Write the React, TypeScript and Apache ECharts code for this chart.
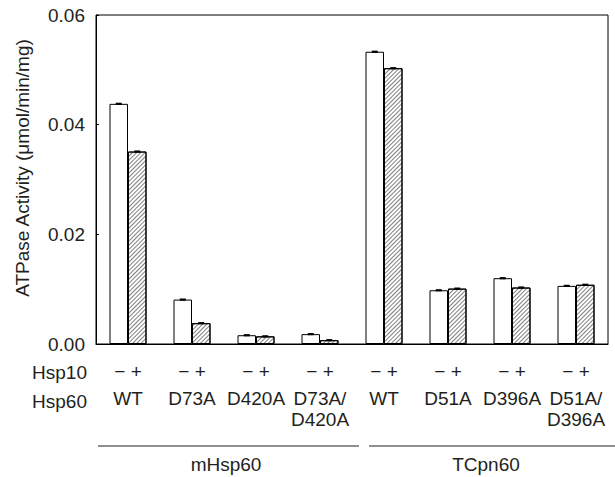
import React, { useEffect, useRef } from "react";
import * as echarts from "echarts";

const categories = ["WT", "D73A", "D420A", "D73A/\nD420A", "WT", "D51A", "D396A", "D51A/\nD396A"];
const withoutHsp10 = [0.0438, 0.0081, 0.0016, 0.0018, 0.0533, 0.0098, 0.0120, 0.0106];
const withHsp10 = [0.0351, 0.0038, 0.0014, 0.0007, 0.0503, 0.0101, 0.0103, 0.0108];
const errWithout = [0.0002, 0.0002, 0.0002, 0.0002, 0.0002, 0.0002, 0.0002, 0.0002];
const errWith = [0.0002, 0.0002, 0.0002, 0.0002, 0.0002, 0.0002, 0.0002, 0.0002];
const yTicks = [0, 0.02, 0.04, 0.06];
const rowLabels = ["Hsp10", "Hsp60"];
const groupLabels = ["mHsp60", "TCpn60"];

const FONT = "'Liberation Sans', Arial, Helvetica, sans-serif";
const TXT = "#231f20";
const FS = 19;
const BAR_W = 18.5;

export default function App() {
  const ref = useRef<HTMLDivElement>(null);
  useEffect(() => {
    if (!ref.current) return;
    const chart = echarts.init(ref.current, null, { renderer: "svg" });

    const errSeries = (vals: number[], errs: number[], off: number) => ({
      type: "custom",
      z: 5,
      data: vals.map((v, i) => [i, v, errs[i]]),
      encode: { x: 0, y: 1 },
      renderItem: (params: any, api: any) => {
        const i = api.value(0);
        const v = api.value(1);
        const e = api.value(2);
        const hi = api.coord([i, v + e]);
        const lo = api.coord([i, v - e]);
        const h = Math.max(2, lo[1] - hi[1]);
        const cy = (hi[1] + lo[1]) / 2;
        return {
          type: "rect",
          shape: { x: hi[0] + off - 3, y: cy - h / 2, width: 6, height: h },
          style: { fill: "#000" },
        };
      },
    });

    chart.setOption({
      animation: false,
      grid: {
        left: 96,
        right: 7,
        top: 15,
        bottom: 133,
        show: true,
        borderColor: "#000",
        borderWidth: 1,
        backgroundColor: "transparent",
      },
      xAxis: {
        type: "category",
        data: categories,
        axisLine: { lineStyle: { color: "#000", width: 1 } },
        axisTick: { inside: true, length: 4, lineStyle: { color: "#000" } },
        axisLabel: {
          interval: 0,
          margin: 10,
          color: TXT,
          fontFamily: FONT,
          fontSize: FS,
          formatter: (value: string) =>
            "{pm|\u2212 +}\n" +
            value
              .split("\n")
              .map((s) => "{nm|" + s + "}")
              .join("\n"),
          rich: {
            pm: { fontFamily: FONT, fontSize: FS, color: TXT, lineHeight: 34 },
            nm: { fontFamily: FONT, fontSize: FS, color: TXT, lineHeight: 21 },
          },
        },
      },
      yAxis: {
        type: "value",
        min: yTicks[0],
        max: yTicks[yTicks.length - 1],
        interval: 0.02,
        splitLine: { show: false },
        axisLine: { show: true, lineStyle: { color: "#000", width: 1 } },
        axisTick: { show: true, inside: true, length: 3, lineStyle: { color: "#000" } },
        axisLabel: {
          margin: 11,
          color: TXT,
          fontFamily: FONT,
          fontSize: FS,
          formatter: (v: number) => v.toFixed(2),
        },
      },
      series: [
        {
          type: "bar",
          name: "- Hsp10",
          data: withoutHsp10,
          barWidth: BAR_W,
          barGap: "0%",
          itemStyle: { color: "#fff", borderColor: "#000", borderWidth: 1 },
        },
        {
          type: "bar",
          name: "+ Hsp10",
          data: withHsp10,
          barWidth: BAR_W,
          barGap: "0%",
          itemStyle: {
            color: "#fff",
            borderColor: "#000",
            borderWidth: 1,
            decal: {
              symbol: "rect",
              symbolSize: 1,
              dashArrayX: [1, 0],
              dashArrayY: [1, 1.6],
              rotation: -Math.PI / 4,
              color: "rgba(0,0,0,0.5)",
            },
          },
        },
        errSeries(withoutHsp10, errWithout, -BAR_W / 2),
        errSeries(withHsp10, errWith, BAR_W / 2),
      ],
      graphic: [
        {
          type: "text",
          x: 22,
          y: 168,
          rotation: Math.PI / 2,
          style: {
            text: "ATPase Activity (\u03bcmol/min/mg)",
            fontFamily: FONT,
            fontSize: FS,
            fill: TXT,
            align: "center",
            verticalAlign: "middle",
          },
        },
        {
          type: "text",
          x: 87,
          y: 372,
          style: { text: rowLabels[0], fontFamily: FONT, fontSize: FS, fill: TXT, align: "right", verticalAlign: "middle" },
        },
        {
          type: "text",
          x: 87,
          y: 401,
          style: { text: rowLabels[1], fontFamily: FONT, fontSize: FS, fill: TXT, align: "right", verticalAlign: "middle" },
        },
        {
          type: "line",
          shape: { x1: 98, y1: 446, x2: 359, y2: 446 },
          style: { stroke: "#231f20", lineWidth: 1 },
        },
        {
          type: "line",
          shape: { x1: 369, y1: 446, x2: 615, y2: 446 },
          style: { stroke: "#231f20", lineWidth: 1 },
        },
        {
          type: "text",
          x: 226,
          y: 464,
          style: { text: groupLabels[0], fontFamily: FONT, fontSize: FS, fill: TXT, align: "center", verticalAlign: "middle" },
        },
        {
          type: "text",
          x: 486,
          y: 464,
          style: { text: groupLabels[1], fontFamily: FONT, fontSize: FS, fill: TXT, align: "center", verticalAlign: "middle" },
        },
      ],
    });
    return () => chart.dispose();
  }, []);
  return <div ref={ref} style={{ width: 615, height: 477, position: "absolute", left: 0, top: 0 }} />;
}
